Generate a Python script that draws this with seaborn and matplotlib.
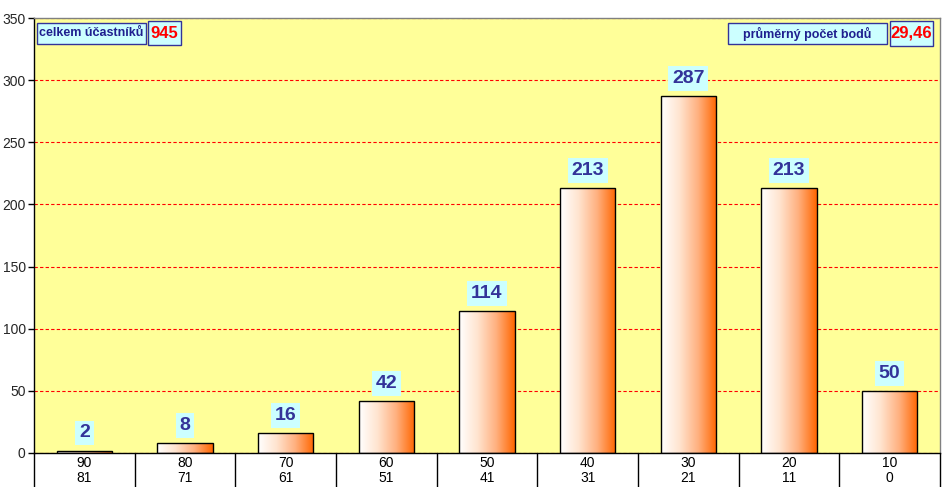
import numpy as np
import pandas as pd
import matplotlib
matplotlib.use("Agg")
import matplotlib.pyplot as plt
import seaborn as sns
from matplotlib.colors import LinearSegmentedColormap
from matplotlib.patches import Rectangle
from matplotlib.transforms import blended_transform_factory

top_labels = ["90", "80", "70", "60", "50", "40", "30", "20", "10"]
bottom_labels = ["81", "71", "61", "51", "41", "31", "21", "11", "0"]
counts = [2, 8, 16, 42, 114, 213, 287, 213, 50]
total_label = "celkem účastníků"
total_value = "945"
mean_label = "průměrný počet bodů"
mean_value = "29,46"

sns.set_theme(style="white")
plt.rcParams['font.family'] = ['Liberation Sans', 'DejaVu Sans']

W, H = 943, 487
categories = [f"{a}\n{b}" for a, b in zip(top_labels, bottom_labels)]
df = pd.DataFrame({"cat": categories, "count": counts})

fig = plt.figure(figsize=(W/100, H/100), dpi=100)
ax = fig.add_axes([34/W, (H-453)/H, (940-34)/W, (453-18)/H])
ax.set_facecolor("#FFFF99")

sns.barplot(data=df, x="cat", y="count", ax=ax, width=0.55,
            color="white", edgecolor="black", linewidth=1, zorder=3)

cmap = LinearSegmentedColormap.from_list("g", ["#FFFFFF", "#FFE4CF", "#FFB07F", "#FF6600"])
grad = np.linspace(0, 1, 256).reshape(1, -1)
for p in ax.patches:
    x0, y0 = p.get_x(), p.get_y()
    w, h = p.get_width(), p.get_height()
    im = ax.imshow(grad, extent=[x0, x0 + w, y0, y0 + h], cmap=cmap,
                   aspect="auto", zorder=2.5, interpolation="bicubic")
    im.set_clip_path(p)
    p.set_facecolor("none")
    ax.annotate(f"{int(round(h))}", xy=(x0 + w/2, y0 + h), xytext=(0, 6.5),
                textcoords="offset points", ha="center", va="bottom",
                fontsize=14, fontweight="bold", color="#333399", zorder=5,
                bbox=dict(boxstyle="square,pad=0.2", fc="#CCFFFF", ec="none"))

ax.set_xlim(-0.5, len(counts) - 0.5)
ax.set_ylim(0, 350)
ax.set_yticks(range(0, 351, 50))
ax.set_xticks(range(len(counts)))
ax.set_xticklabels([])
ax.yaxis.grid(True, color="red", linestyle=(0, (3, 2)), linewidth=0.8)
ax.set_axisbelow(True)
ax.set_xlabel("")
ax.set_ylabel("")
ax.tick_params(axis="y", left=True, length=4, width=1, color="black", labelsize=10, pad=2)
ax.tick_params(axis="x", bottom=False)
for s in ["top", "right"]:
    ax.spines[s].set_color("#808080")
ax.spines["left"].set_color("black")
ax.spines["bottom"].set_color("black")
for s in ax.spines.values():
    s.set_linewidth(1)

# two-line category labels and separators below the axis
tr = blended_transform_factory(ax.transData, fig.transFigure)
for i, (a, b) in enumerate(zip(top_labels, bottom_labels)):
    ax.text(i, 1 - 467/H, a, transform=tr, ha="center", va="baseline", fontsize=10, color="black")
    ax.text(i, 1 - 482/H, b, transform=tr, ha="center", va="baseline", fontsize=10, color="black")
for i in range(len(counts) + 1):
    ax.plot([i - 0.5, i - 0.5], [1 - 453/H, 0], transform=tr, color="black",
            linewidth=1, clip_on=False, zorder=6)

def box(x0, y0, x1, y1):
    fig.patches.append(Rectangle((x0/W, 1 - y1/H), (x1-x0)/W, (y1-y0)/H,
                                 transform=fig.transFigure, fc="#CCFFFF",
                                 ec="#333399", lw=1, zorder=5))

box(37, 23, 146, 44)
box(148, 21, 181, 45)
box(728, 23, 887, 44)
box(890, 21, 933, 46)
fig.text(91.5/W, 1 - 33.5/H, total_label, ha="center", va="center", fontsize=9,
         fontweight="bold", color="#1F1F8F", zorder=6)
fig.text(164.5/W, 1 - 33.5/H, total_value, ha="center", va="center", fontsize=12,
         fontweight="bold", color="#FF0000", zorder=6)
fig.text(807.5/W, 1 - 33.5/H, mean_label, ha="center", va="center", fontsize=9,
         fontweight="bold", color="#1F1F8F", zorder=6)
fig.text(911.5/W, 1 - 33.5/H, mean_value, ha="center", va="center", fontsize=12,
         fontweight="bold", color="#FF0000", zorder=6)

fig.savefig("out.png", dpi=100, facecolor="white")
